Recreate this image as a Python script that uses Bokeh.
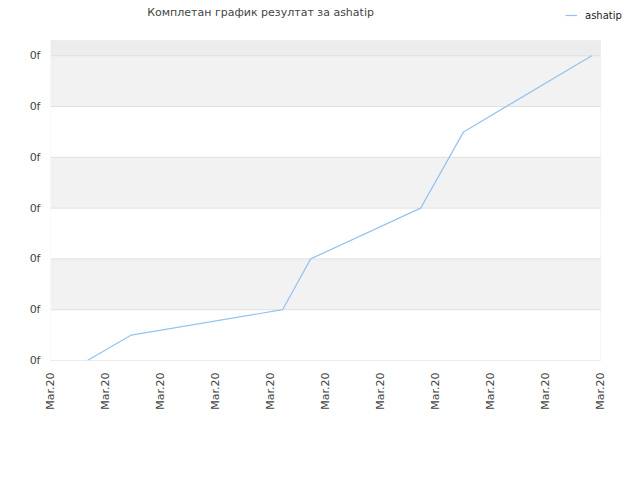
import math
from bokeh.plotting import figure
from bokeh.models import Range1d, FixedTicker, Legend, LegendItem, BoxAnnotation, Label
from bokeh.embed import file_html
from bokeh.resources import INLINE

# data
series_name = "ashatip"
x_vals = [0.67, 1.47, 4.22, 4.73, 6.73, 7.51, 9.84]
y_vals = [0.0, 0.5, 1.0, 2.0, 3.0, 4.5, 6.0]
x_ticks = list(range(0, 11))
x_tick_labels = ["Mar.20"] * 11
y_ticks = [0, 1, 2, 3, 4, 5, 6]
y_tick_labels = ["0f"] * 7
title_text = "Комплетан график резултат за ashatip"

X_MAX, Y_MAX = 10, 6.3  # visible plot area extent

p = figure(width=632, height=472, output_backend="svg", toolbar_location=None,
           x_range=Range1d(0, 582 / 55.0), y_range=Range1d(0, 360 / 50.8),
           min_border_left=50, min_border_right=0, min_border_top=0, min_border_bottom=112)
p.background_fill_color = "white"
p.border_fill_color = "white"
p.outline_line_color = None
p.title.visible = False

# bands
for lo, hi, c in [(1, 2, "#f2f2f2"), (3, 4, "#f2f2f2"), (5, 6, "#f2f2f2"), (6, Y_MAX, "#ececec")]:
    p.add_layout(BoxAnnotation(left=0, right=X_MAX, bottom=lo, top=hi, fill_color=c,
                               fill_alpha=1.0, line_alpha=0, level="underlay"))

p.xgrid.visible = False
p.ygrid.visible = False
p.segment(x0=[0] * len(y_ticks), x1=[X_MAX] * len(y_ticks), y0=y_ticks, y1=y_ticks,
          line_color="#e0e0e0", line_width=1)

# plot-area border
p.add_layout(BoxAnnotation(left=0, right=X_MAX, bottom=0, top=Y_MAX, fill_alpha=0,
                           line_color="#dddddd", line_width=1))

r = p.line(x_vals, y_vals, line_color="#92c3f2", line_width=1.2)

p.xaxis.ticker = FixedTicker(ticks=x_ticks)
p.xaxis.major_label_overrides = {t: l for t, l in zip(x_ticks, x_tick_labels)}
p.xaxis.major_label_orientation = math.pi / 2
p.xaxis.axis_line_color = None
p.xaxis.major_tick_line_color = None
p.xaxis.minor_tick_line_color = None
p.xaxis.major_tick_out = 0
p.xaxis.minor_tick_out = 0
p.xaxis.major_label_standoff = 12
p.xaxis.major_label_text_font = "DejaVu Sans"
p.xaxis.major_label_text_font_size = "11px"
p.xaxis.major_label_text_color = "#444444"

p.yaxis.ticker = FixedTicker(ticks=y_ticks)
p.yaxis.major_label_overrides = {t: l for t, l in zip(y_ticks, y_tick_labels)}
p.yaxis.axis_line_color = None
p.yaxis.major_tick_line_color = None
p.yaxis.minor_tick_line_color = None
p.yaxis.major_tick_out = 0
p.yaxis.minor_tick_out = 0
p.yaxis.major_label_standoff = 10
p.yaxis.major_label_text_font = "DejaVu Sans"
p.yaxis.major_label_text_font_size = "11px"
p.yaxis.major_label_text_color = "#444444"

# title
p.add_layout(Label(x=3.82, y=(360 - 12) / 50.8, text=title_text, text_align="center",
                   text_baseline="middle", text_font="DejaVu Sans", text_font_size="11px",
                   text_color="#444444"))

legend = Legend(items=[LegendItem(label=series_name, renderers=[r])], location=(515, 337),
                orientation="horizontal", border_line_color=None, background_fill_alpha=0,
                label_text_font="DejaVu Sans", label_text_font_size="10px", label_text_color="#222222",
                glyph_width=12, glyph_height=16, label_standoff=8, padding=0, margin=0)
p.add_layout(legend, "center")

open("out.html", "w").write(file_html(p, INLINE))
